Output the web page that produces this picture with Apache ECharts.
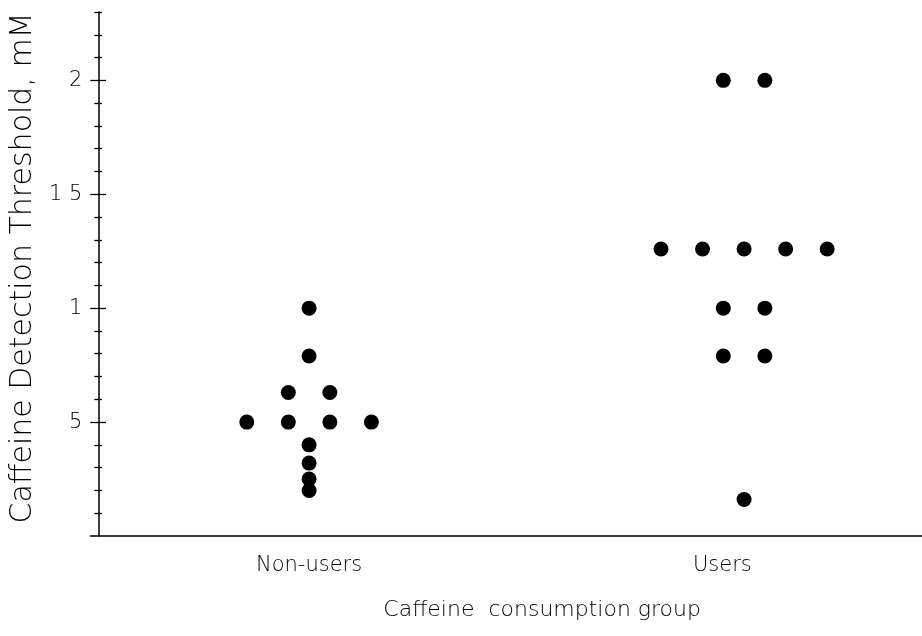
<!DOCTYPE html>
<html>
<head>
<meta charset="utf-8">
<script src="https://cdn.jsdelivr.net/npm/echarts@6/dist/echarts.min.js"></script>
<style>
  html, body { margin: 0; padding: 0; background: #fff; }
  #chart { width: 922px; height: 636px; }
</style>
</head>
<body>
<div id="chart"></div>
<script>
// ---- data ----
var categories = ['Non-users', 'Users'];
var nonUsersValues = [1.0, 0.79, 0.63, 0.63, 0.5, 0.5, 0.5, 0.5, 0.4, 0.32, 0.25, 0.2];
var usersValues = [2.0, 2.0, 1.26, 1.26, 1.26, 1.26, 1.26, 1.0, 1.0, 0.79, 0.79, 0.16];
var yTickValues = [0.5, 1, 1.5, 2];
var yTickLabels = ['5', '1', '1 5', '2'];
var yMinorTickValues = [0.1, 0.2, 0.3, 0.4, 0.6, 0.7, 0.8, 0.9, 1.1, 1.2, 1.3, 1.4, 1.6, 1.7, 1.8, 1.9, 2.1, 2.2, 2.3];
var xTitle = 'Caffeine  consumption group';
var yTitle = 'Caffeine Detection Threshold, mM';

// ---- layout helpers ----
var groupCenters = [1, 2];
var labelPositions = [1.0, 1.95];
var step = 0.0955;

function dotPlot(values, center) {
  var rows = {};
  var order = [];
  values.forEach(function (v) {
    var k = String(v);
    if (!rows[k]) { rows[k] = []; order.push(k); }
    rows[k].push(v);
  });
  var out = [];
  order.forEach(function (k) {
    var r = rows[k];
    var n = r.length;
    r.forEach(function (v, i) {
      out.push([center + (i - (n - 1) / 2) * step, v]);
    });
  });
  return out;
}

var FONT = '"DejaVu Sans", sans-serif';
var W = 200;
var GRID_LEFT = 90, AXIS_X = 98, TOP = 12, BOTTOM = 100;

function yAx(extra) {
  var base = {
    type: 'value', min: 0, max: 2.3,
    splitLine: { show: false },
    axisLine: { show: false, onZero: false },
    axisLabel: { show: false },
    axisTick: { show: false }
  };
  return Object.assign(base, extra);
}

var tickStyle = { color: '#000', width: 1.3 };

var chart = echarts.init(document.getElementById('chart'), null, { renderer: 'canvas' });
chart.setOption({
  animation: false,
  backgroundColor: '#fff',
  grid: [
    { left: GRID_LEFT, right: 0, top: TOP, bottom: BOTTOM, containLabel: false },
    { left: 0, width: AXIS_X, top: TOP, bottom: BOTTOM, containLabel: false }
  ],
  xAxis: [
    {
      gridIndex: 0, type: 'value', min: 0.497, max: 2.409,
      splitLine: { show: false },
      axisLine: { show: true, onZero: false, lineStyle: { color: '#000', width: 1.5 } },
      axisTick: { show: false },
      axisLabel: {
        customValues: labelPositions,
        margin: 19,
        color: '#000', fontFamily: FONT, fontWeight: W, fontSize: 21,
        formatter: function (v) { return v < 1.5 ? categories[0] : categories[1]; }
      },
      name: xTitle, nameLocation: 'middle', nameGap: 63,
      nameTextStyle: { color: '#000', fontFamily: FONT, fontWeight: W, fontSize: 22, padding: [0, 0, 0, 72] }
    },
    { gridIndex: 1, type: 'value', min: 0, max: 1, show: false }
  ],
  yAxis: [
    yAx({
      gridIndex: 0, position: 'left', offset: GRID_LEFT - AXIS_X,
      axisLine: { show: true, onZero: false, lineStyle: { color: '#000', width: 1.5 } },
      axisLabel: {
        show: true, customValues: yTickValues, margin: 16,
        color: '#000', fontFamily: FONT, fontWeight: W, fontSize: 21,
        formatter: function (v) {
          for (var i = 0; i < yTickValues.length; i++) {
            if (Math.abs(yTickValues[i] - v) < 1e-6) return yTickLabels[i];
          }
          return '';
        }
      },
      axisTick: { show: true, customValues: yTickValues, length: 8, lineStyle: tickStyle },
      name: yTitle, nameLocation: 'middle', nameGap: 60,
      nameTextStyle: { color: '#000', fontFamily: FONT, fontWeight: W, fontSize: 30, padding: [0, 0, 0, 12] }
    }),
    yAx({ gridIndex: 0, position: 'left', offset: GRID_LEFT - AXIS_X,
      axisTick: { show: true, customValues: yMinorTickValues, length: 4, lineStyle: tickStyle } }),
    yAx({ gridIndex: 1, position: 'right', offset: 0,
      axisTick: { show: true, customValues: yTickValues, length: 8, lineStyle: tickStyle } }),
    yAx({ gridIndex: 1, position: 'right', offset: 0,
      axisTick: { show: true, customValues: yMinorTickValues, length: 4, lineStyle: tickStyle } })
  ],
  series: [
    {
      name: categories[0], type: 'scatter', xAxisIndex: 0, yAxisIndex: 0,
      symbol: 'circle', symbolSize: 15, itemStyle: { color: '#000', opacity: 1 },
      data: dotPlot(nonUsersValues, groupCenters[0])
    },
    {
      name: categories[1], type: 'scatter', xAxisIndex: 0, yAxisIndex: 0,
      symbol: 'circle', symbolSize: 15, itemStyle: { color: '#000', opacity: 1 },
      data: dotPlot(usersValues, groupCenters[1])
    }
  ]
});
</script>
</body>
</html>
